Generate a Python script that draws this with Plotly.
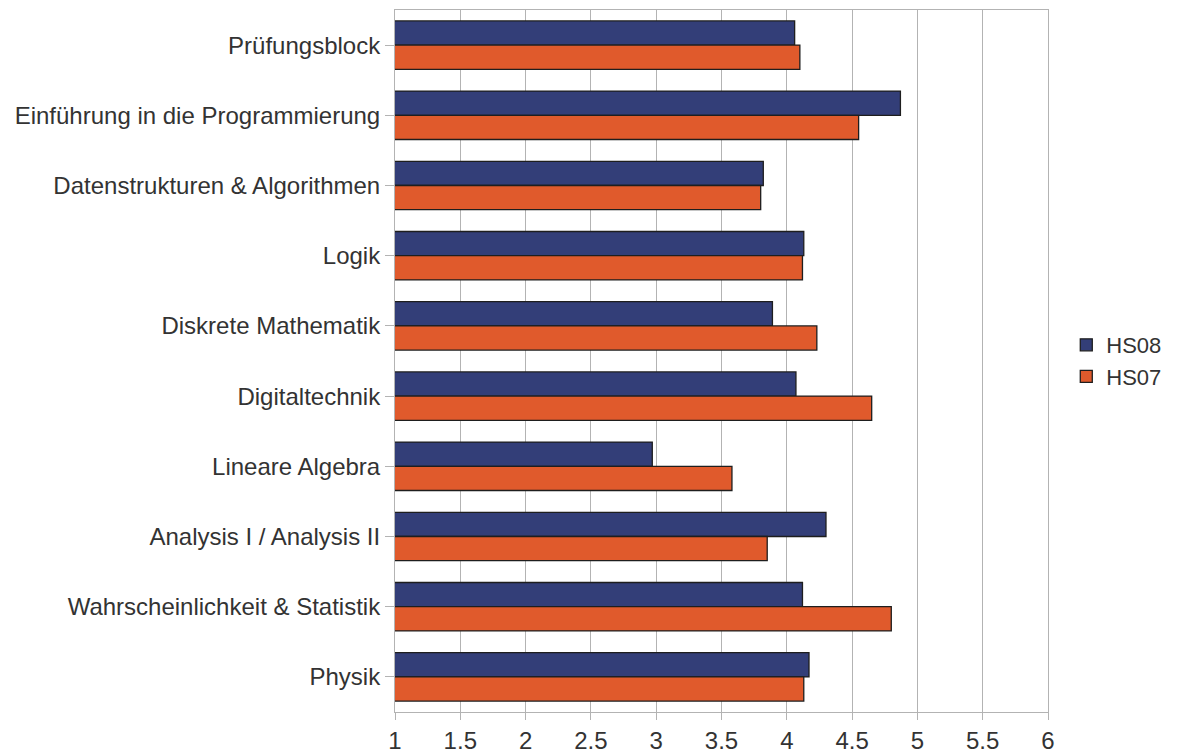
import plotly.graph_objects as go

categories = [
    "Prüfungsblock",
    "Einführung in die Programmierung",
    "Datenstrukturen & Algorithmen",
    "Logik",
    "Diskrete Mathematik",
    "Digitaltechnik",
    "Lineare Algebra",
    "Analysis I / Analysis II",
    "Wahrscheinlichkeit & Statistik",
    "Physik",
]
hs08 = [4.06, 4.87, 3.82, 4.13, 3.89, 4.07, 2.97, 4.30, 4.12, 4.17]
hs07 = [4.10, 4.55, 3.80, 4.12, 4.23, 4.65, 3.58, 3.85, 4.80, 4.13]

fig = go.Figure()
fig.add_trace(go.Bar(
    y=categories, x=hs08, name="HS08", orientation="h", base=0,
    marker=dict(color="#333e78", line=dict(color="#1e1e1e", width=1.3)),
))
fig.add_trace(go.Bar(
    y=categories, x=hs07, name="HS07", orientation="h", base=0,
    marker=dict(color="#e05a2c", line=dict(color="#1e1e1e", width=1.3)),
))

fig.update_layout(
    width=1195, height=745,
    margin=dict(l=387, r=155, t=2, b=41),
    paper_bgcolor="white", plot_bgcolor="white",
    barmode="group", bargap=0.31, bargroupgap=0,
    font=dict(family="Liberation Sans, Arial, sans-serif", size=24, color="#333333"),
    legend=dict(x=1.028, y=0.5, xanchor="left", yanchor="middle",
                font=dict(size=22, color="#333333"), traceorder="normal",
                itemwidth=30, bgcolor="rgba(0,0,0,0)", tracegroupgap=0),
    showlegend=True,
)
fig.update_xaxes(
    range=[1, 6], dtick=0.5, tick0=1, automargin=False,
    showgrid=True, gridcolor="#b3b3b3", gridwidth=1,
    showline=True, linecolor="#b3b3b3", linewidth=1, mirror=True,
    ticks="outside", ticklen=7, tickcolor="#b3b3b3",
    tickfont=dict(size=24, color="#333333"), zeroline=False,
)
fig.update_yaxes(
    autorange="reversed", automargin=False,
    showline=True, linecolor="#b3b3b3", linewidth=1, mirror=True,
    ticks="outside", ticklen=9, tickcolor="#b3b3b3",
    tickfont=dict(size=24, color="#333333"), showgrid=False,
)

fig.write_html("out.html")
